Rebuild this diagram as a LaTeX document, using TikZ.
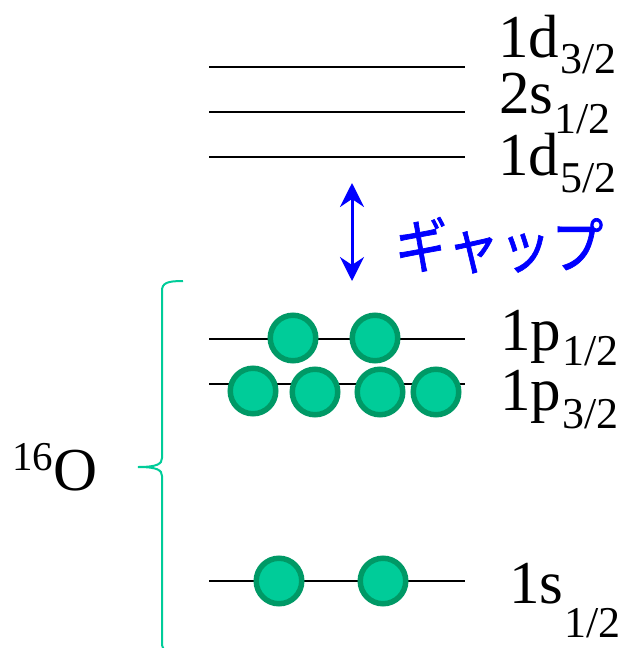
\documentclass[tikz,border=0pt]{standalone}
\usepackage{fontspec}
\setmainfont{Liberation Serif}
\newfontfamily\jpfont[FakeBold=1.2]{Noto Sans CJK JP}
\usepackage{tikz}
\usetikzlibrary{arrows.meta}
\definecolor{nucfill}{RGB}{0,204,153}
\definecolor{nucedge}{RGB}{0,153,102}
\definecolor{gapblue}{RGB}{0,0,255}
% orbital label: name, subscript, drop of the subscript
\newcommand{\orb}[3]{#1\kern1pt\raisebox{-#3pt}{\fontsize{44}{44}\selectfont #2}}

\begin{document}
\begin{tikzpicture}[x=1pt,y=-1pt,
    level/.style={line width=2pt,black},
    nucleon/.style={circle,draw=nucedge,fill=nucfill,line width=5.5pt,minimum size=45.5pt,inner sep=0pt},
    lbl/.style={anchor=base west,inner sep=0pt,font=\fontsize{61}{61}\selectfont},
    gaparrow/.style={line width=3pt,gapblue,{Stealth[length=24pt,width=24pt,inset=8pt]}-{Stealth[length=24pt,width=24pt,inset=8pt]}},
    bracket/.style={line width=2pt,nucfill}]
  \clip (0,0) rectangle (623,648);
  % single-particle levels
  \foreach \y in {67,112,157,339,384,581}
    \draw[level] (209,\y) -- (465,\y);
  % level labels
  \node[lbl] (d32) at (498,57) {\orb{1d}{3/2}{16}};
  \node[lbl] (s12b) at (499,113) {\orb{2s}{1/2}{20}};
  \node[lbl] (d52) at (498,175) {\orb{1d}{5/2}{17}};
  \node[lbl] (p12) at (500,350) {\orb{1p}{1/2}{15}};
  \node[lbl] (p32) at (500,410) {\orb{1p}{3/2}{18}};
  \node[lbl] (s12) at (509,603) {\orb{1s}{1/2}{34}};
  % nucleons
  \node[nucleon] (pa) at (293,338) {};
  \node[nucleon] (pb) at (375,338) {};
  \node[nucleon] (qa) at (253,391) {};
  \node[nucleon] (qb) at (315,392) {};
  \node[nucleon] (qc) at (380,392) {};
  \node[nucleon] (qd) at (436,392) {};
  \node[nucleon] (sa) at (279,581) {};
  \node[nucleon] (sb) at (383,581) {};
  % shell gap
  \coordinate (gaptop) at (352,183);
  \coordinate (gapbot) at (352,281);
  \draw[gaparrow] (gaptop) -- (gapbot);
  \node[anchor=base west,inner sep=0pt,gapblue,font=\jpfont\fontsize{52}{52}\selectfont] (gap) at (395,268) {\scalebox{1}[1.15]{ギャップ}};
  % brace and nucleus
  \draw[bracket] (183,281) .. controls (167,281) and (162,283) .. (162,291)
    -- (162,458) .. controls (162,464) and (157,467) .. (138,467)
    .. controls (157,467) and (162,470) .. (162,476)
    -- (162,643) .. controls (162,651) and (167,653) .. (183,653);
  \node[lbl] (oxy) at (12,490) {\raisebox{20pt}{\fontsize{41}{41}\selectfont 16}O};
\end{tikzpicture}
\end{document}
